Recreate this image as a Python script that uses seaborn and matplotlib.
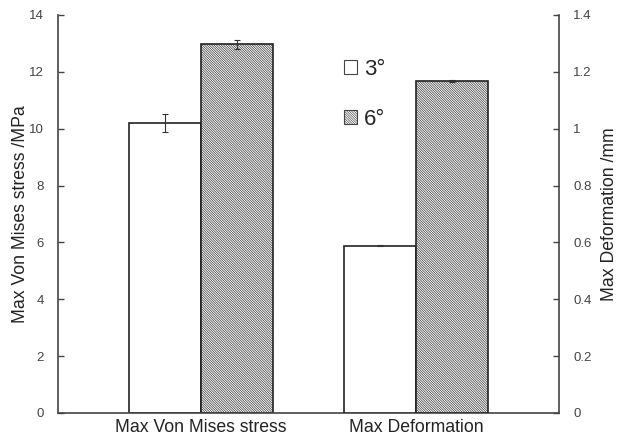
import pandas as pd
import numpy as np
import matplotlib
matplotlib.use('Agg')
import matplotlib.pyplot as plt
import seaborn as sns
from matplotlib.patches import Patch

# data
categories = ['Max Von Mises stress', 'Max Deformation']
angles = ['3°', '6°']
stress_mean = [10.2, 12.97]
stress_err = [0.33, 0.16]
deform_mean = [0.589, 1.169]
deform_err = [0.003, 0.003]

sns.set_style('white')
plt.rcParams['font.family'] = ['Liberation Sans', 'DejaVu Sans']
plt.rcParams['hatch.linewidth'] = 0.45
plt.rcParams['hatch.color'] = '#808080'

hatch = '\\' * 14

stress = pd.DataFrame({'category': categories[0], 'angle': angles, 'value': stress_mean, 'err': stress_err})
deform = pd.DataFrame({'category': categories[1], 'angle': angles, 'value': deform_mean, 'err': deform_err})

fig = plt.figure(figsize=(6.19, 4.36), dpi=100)
ax = fig.add_axes([0.0937, 0.0528, 0.8097, 0.9128])
ax2 = ax.twinx()

palette = {'3°': 'white', '6°': 'white'}
for a, df in [(ax, stress), (ax2, deform)]:
    sns.barplot(data=df, x='category', y='value', hue='angle', order=categories,
                hue_order=angles, palette=palette, width=0.67, errorbar=None,
                edgecolor='#222222', linewidth=1.2, saturation=1, legend=False, ax=a)
    # hatch the 6 degree bars and add error bars
    for patch, (_, row) in zip(a.patches, df.iterrows()):
        if row['angle'] == '6°':
            patch.set_hatch(hatch)
        a.errorbar(patch.get_x() + patch.get_width() / 2, row['value'], yerr=row['err'],
                   color='#333333', capsize=2, elinewidth=0.8, capthick=0.8)

ax.set_xlim(-0.665, 1.665)
ax.set_ylim(0, 14)
ax.set_yticks(np.arange(0, 15, 2))
ax2.set_ylim(0, 1.4)
ax2.set_yticks([0, 0.2, 0.4, 0.6, 0.8, 1.0, 1.2, 1.4])
ax2.set_yticklabels(['0', '0.2', '0.4', '0.6', '0.8', '1', '1.2', '1.4'])

ax.set_xlabel('')
ax2.set_xlabel('')
ax.set_ylabel('Max Von Mises stress /MPa', fontsize=12.7, color='#222222', labelpad=0.5)
ax2.set_ylabel('Max Deformation /mm', fontsize=12.7, color='#222222', labelpad=7)
ax.tick_params(axis='x', length=0, labelsize=12.7, colors='#222222', pad=4)
ax.tick_params(axis='y', direction='in', length=4, width=1, labelsize=9.5, colors='#444444', pad=10)
ax2.tick_params(axis='y', direction='in', length=4, width=1, labelsize=9.5, colors='#444444', pad=10)
for a in (ax, ax2):
    a.spines['top'].set_visible(False)
    for s in ('left', 'right', 'bottom'):
        a.spines[s].set_color('#444444')
        a.spines[s].set_linewidth(1.2)
ax.spines['right'].set_visible(False)
ax2.spines['left'].set_visible(False)
ax2.spines['bottom'].set_visible(False)

handles = [Patch(facecolor='white', edgecolor='#444444', linewidth=0.8, label='3°'),
           Patch(facecolor='white', edgecolor='#444444', linewidth=0.8, hatch=hatch, label='6°')]
ax2.legend(handles=handles, loc='upper left', bbox_to_anchor=(0.53, 0.94), frameon=False,
           fontsize=16, handlelength=0.6, handleheight=0.6, handletextpad=0.3, labelspacing=1.3)

fig.savefig('out.png', dpi=100)
